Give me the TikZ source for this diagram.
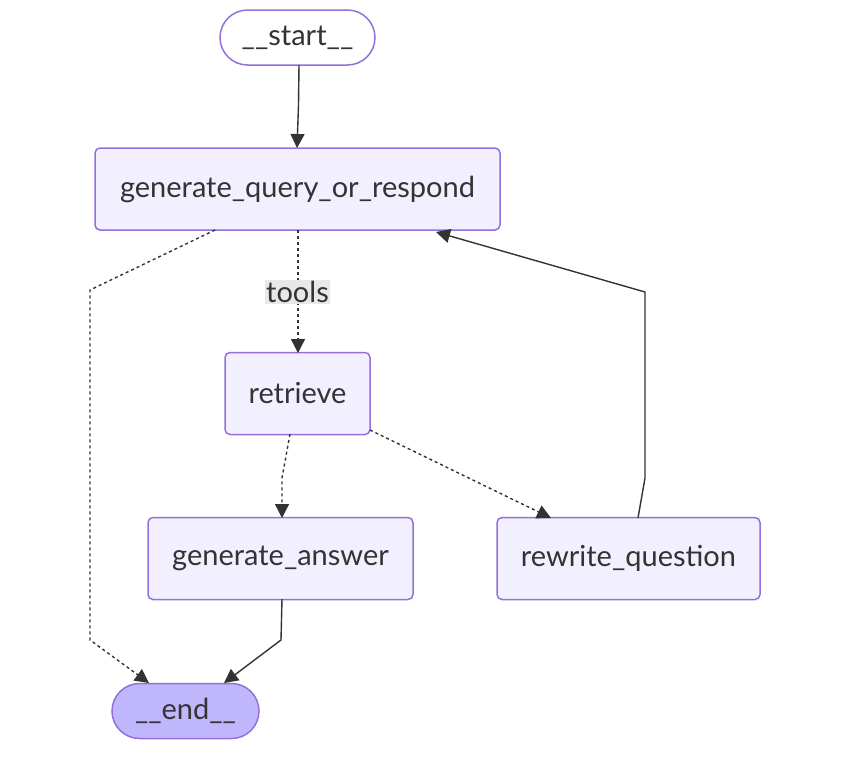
\documentclass[tikz,border=0pt]{standalone}
\usepackage{fontspec}
\setmainfont{Lato}
\usetikzlibrary{arrows.meta}
\definecolor{nodefill}{HTML}{F2F0FF}
\definecolor{nodeborder}{HTML}{9370DB}
\definecolor{endfill}{HTML}{BFB6FC}
\definecolor{edgecol}{HTML}{333333}
\definecolor{labelbg}{HTML}{E8E8E8}
\definecolor{txt}{HTML}{333333}
\tikzset{
  box/.style={draw=nodeborder, fill=nodefill, line width=1.5pt, rounded corners=5pt, minimum height=82pt, inner sep=0pt, text=txt, font=\fontsize{29}{34}\selectfont},
  term/.style={draw=nodeborder, line width=1.5pt, rounded corners=27.5pt, minimum height=55pt, inner sep=0pt, text=txt, font=\fontsize{29}{34}\selectfont},
  edge/.style={draw=edgecol, line width=1.4pt, -{Triangle[length=14pt,width=14pt]}},
  dotedge/.style={edge, dash pattern=on 3pt off 3pt},
  lbl/.style={fill=labelbg, text=txt, inner sep=1.5pt, font=\fontsize{29}{34}\selectfont}
}
\begin{document}
\begin{tikzpicture}[x=1pt,y=-1pt]
\useasboundingbox (0,0) rectangle (851,758);
\node[term, fill=white, minimum width=155pt] (start) at (297.5,37.5) {\_\_start\_\_};
\node[box, minimum width=405pt] (gqr) at (297.5,189) {generate\_query\_or\_respond};
\node[box, minimum width=145pt] (ret) at (297.5,393.5) {retrieve};
\node[box, minimum width=265pt] (ga) at (280.5,558.5) {generate\_answer};
\node[box, minimum width=263pt] (rq) at (628.5,558.5) {rewrite\_question};
\node[term, fill=endfill, minimum width=147pt] (end) at (185.5,711) {\_\_end\_\_};
\coordinate (s1) at (298.5,105);
\draw[edge] (299,65) -- (s1) -- (297,148);
\draw[dotedge] (298,230) -- (298,353);
\node[lbl] (tools) at (297.5,292) {tools};
\coordinate (e1) at (90,290);
\coordinate (e2) at (90,640);
\draw[dotedge] (215,230) -- (e1) -- (e2) -- (149,683);
\coordinate (r1) at (282,478);
\draw[dotedge] (290,434) -- (r1) -- (282,518);
\draw[dotedge] (370,430) -- (551,518);
\coordinate (g1) at (281,640);
\draw[edge] (282,599) -- (g1) -- (224,683);
\coordinate (w1) at (645,478);
\coordinate (w2) at (645,292);
\draw[edge] (638,518) -- (w1) -- (w2) -- (436,232);
\end{tikzpicture}
\end{document}
